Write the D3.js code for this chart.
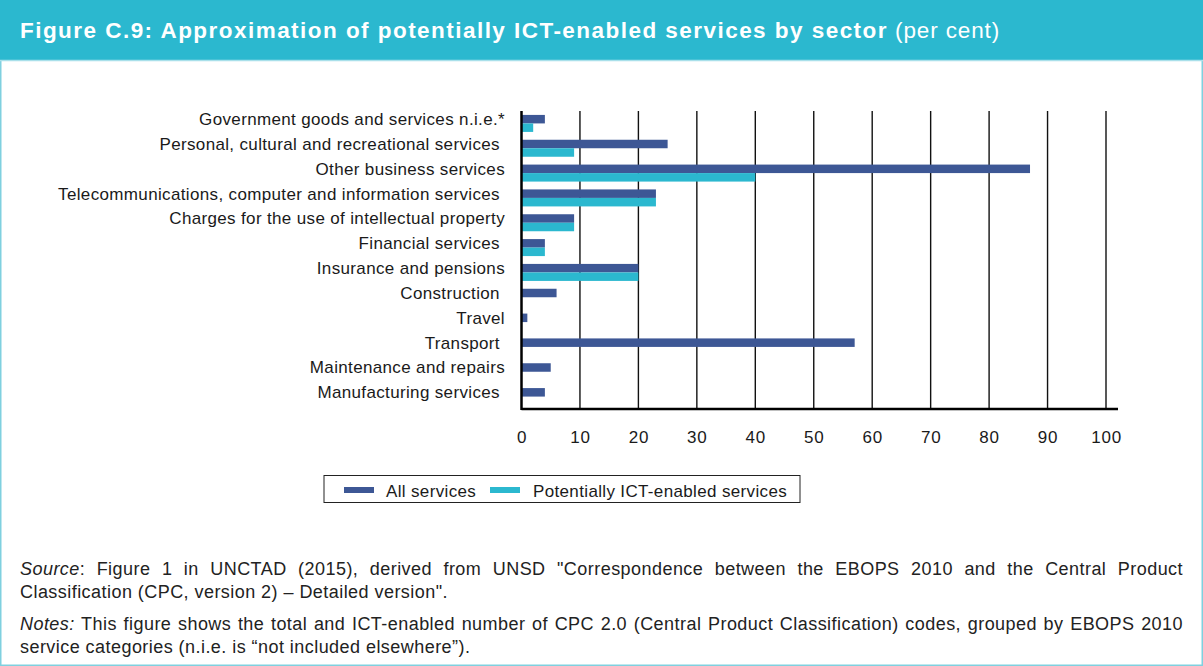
<!DOCTYPE html>
<html><head><meta charset="utf-8">
<script src="https://cdn.jsdelivr.net/npm/d3@7"></script>
<style>
html,body{margin:0;padding:0;background:#fff;}
svg{display:block;font-family:"Liberation Sans",Arial,Helvetica,sans-serif;}
text{white-space:pre;}
</style></head>
<body>
<svg id="chart" width="1203" height="666"></svg>
<script>
const categories = [
  "Government goods and services n.i.e.*",
  "Personal, cultural and recreational services ",
  "Other business services",
  "Telecommunications, computer and information services ",
  "Charges for the use of intellectual property",
  "Financial services ",
  "Insurance and pensions",
  "Construction ",
  "Travel",
  "Transport ",
  "Maintenance and repairs",
  "Manufacturing services "
];
const allServices = [4, 25, 87, 23, 9, 4, 20, 6, 1, 57, 5, 4];
const ictServices = [2, 9, 40, 23, 9, 4, 20, 0, 0, 0, 0, 0];
const seriesNames = ["All services", "Potentially ICT-enabled services"];
const xTicks = [0, 10, 20, 30, 40, 50, 60, 70, 80, 90, 100];

const DARK = "#3d5795", LIGHT = "#2bb8cf", TEAL = "#2bb8cf";
const svg = d3.select("#chart");
const LS = 0.35; // letter spacing for body text

// frame
svg.append("rect").attr("x",0.75).attr("y",0.75).attr("width",1201.5).attr("height",664.5)
  .attr("fill","none").attr("stroke","#7fd0df").attr("stroke-width",1.5);
svg.append("rect").attr("x",0).attr("y",0).attr("width",1203).attr("height",60).attr("fill",TEAL);
svg.append("line").attr("x1",0).attr("x2",1203).attr("y1",60.5).attr("y2",60.5).attr("stroke","#a9e0ea").attr("stroke-width",1.5);

// title
const title = svg.append("text").attr("x",20).attr("y",37.5).attr("fill","#fff").attr("font-size",22.5);
const tb = title.append("tspan").attr("font-weight","bold").text("Figure C.9: Approximation of potentially ICT-enabled services by sector");
const tn = title.append("tspan").attr("font-weight","normal").text(" (per cent)");
{
  const n = tb.text().length;
  const w = tb.node().getComputedTextLength();
  tb.attr("letter-spacing", (868 - w)/n);
  const n2 = tn.text().length, w2 = tn.node().getComputedTextLength();
  tn.attr("letter-spacing", (112 - w2)/n2);
}

const m = {left:521.5, right:1106, top:111, bottom:409};
const x = d3.scaleLinear().domain([0,100]).range([m.left, m.right]);
const y = d3.scaleBand().domain(categories).range([m.top, m.bottom]);
const sub = d3.scaleBand().domain(seriesNames).range([y.bandwidth()/2 - 8.5, y.bandwidth()/2 + 8.5]);

// gridlines
svg.append("g").selectAll("line").data(xTicks.slice(1)).join("line")
  .attr("x1",d=>x(d)).attr("x2",d=>x(d)).attr("y1",m.top).attr("y2",m.bottom)
  .attr("stroke","#111").attr("stroke-width",1.4);

// bars
const data = categories.map((c,i)=>({c, v:[allServices[i], ictServices[i]]}));
const g = svg.append("g");
data.forEach(d=>{
  seriesNames.forEach((s,j)=>{
    if (d.v[j] <= 0) return;
    g.append("rect").attr("x",x(0)).attr("y",y(d.c)+sub(s))
      .attr("width",x(d.v[j])-x(0)).attr("height",sub.bandwidth())
      .attr("fill", j===0?DARK:LIGHT);
  });
});

// axes lines
svg.append("line").attr("x1",m.left).attr("x2",1118).attr("y1",m.bottom).attr("y2",m.bottom).attr("stroke","#000").attr("stroke-width",2.5);
svg.append("line").attr("x1",m.left).attr("x2",m.left).attr("y1",m.top).attr("y2",m.bottom+1).attr("stroke","#000").attr("stroke-width",2.5);

// x axis labels
const xa = svg.append("g").attr("transform",`translate(0,${m.bottom+38})`)
  .call(d3.axisBottom(x).tickValues(xTicks).tickSize(0).tickPadding(0));
xa.select(".domain").remove();
xa.selectAll("text").attr("font-size",17).attr("letter-spacing",0.8).attr("fill","#1a1a1a")
  .attr("font-family","Liberation Sans, Arial, sans-serif").attr("dy","-0.25em");

// y labels
const ya = svg.append("g").attr("transform",`translate(505,0)`)
  .call(d3.axisLeft(y).tickSize(0).tickPadding(0));
ya.select(".domain").remove();
ya.selectAll("text").attr("font-size",17).attr("letter-spacing",LS).attr("fill","#1a1a1a")
  .attr("font-family","Liberation Sans, Arial, sans-serif").attr("dy","0.1em");

// legend
const lg = svg.append("g");
lg.append("rect").attr("x",324).attr("y",475.5).attr("width",476).attr("height",27).attr("fill","#fff").attr("stroke","#222").attr("stroke-width",1);
[[344,386],[490,533]].forEach((p,i)=>{
  lg.append("rect").attr("x",p[0]).attr("y",487).attr("width",30).attr("height",6).attr("fill",i===0?DARK:LIGHT);
  lg.append("text").attr("x",p[1]).attr("y",497).attr("font-size",17).attr("letter-spacing",LS).attr("fill","#1a1a1a").text(seriesNames[i]);
});

// footnotes
const FS = 18;
function footLine(str, yy, italicPrefix, lastLine){
  const t = svg.append("text").attr("x",20).attr("y",yy).attr("font-size",FS).attr("fill","#222").attr("letter-spacing",0.45);
  if (italicPrefix) t.append("tspan").attr("font-style","italic").text(italicPrefix);
  t.append("tspan").text(str);
  if (!lastLine){
    const w = t.node().getComputedTextLength();
    const spaces = ((italicPrefix||"")+str).split(" ").length-1;
    t.attr("word-spacing", (1183-20-w)/spaces);
  }
}
footLine(': Figure 1 in UNCTAD (2015), derived from UNSD "Correspondence between the EBOPS 2010 and the Central Product', 575, "Source", false);
footLine('Classification (CPC, version 2) \u2013 Detailed version".', 598, null, true);
footLine(' This figure shows the total and ICT-enabled number of CPC 2.0 (Central Product Classification) codes, grouped by EBOPS 2010', 630, "Notes:", false);
footLine('service categories (n.i.e. is \u201cnot included elsewhere\u201d).', 653, null, true);
</script>
</body></html>
